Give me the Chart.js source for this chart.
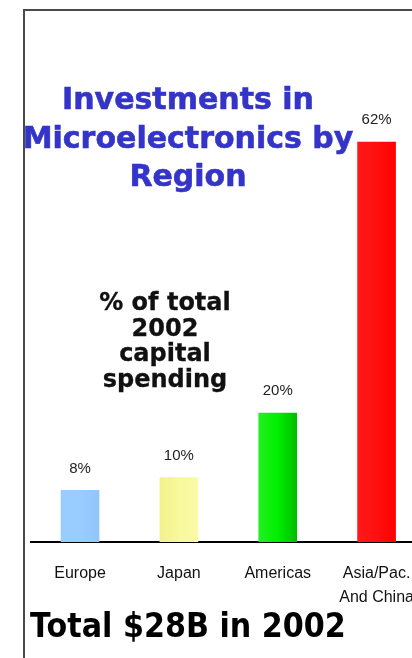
<!DOCTYPE html>
<html>
<head>
<meta charset="utf-8">
<script src="https://cdn.jsdelivr.net/npm/chart.js@4/dist/chart.umd.min.js"></script>
<style>
  html, body { margin: 0; padding: 0; background: #fff; overflow: hidden; width: 412px; height: 658px; }
  #frame { position: absolute; left: 23px; top: 9px; width: 420px; height: 700px;
           border-top: 2px solid #4a4a4a; border-left: 2px solid #4a4a4a; box-sizing: border-box; }
  #wrap { position: absolute; left: 0; top: 0; width: 426px; height: 658px; }
  .txt { position: absolute; white-space: nowrap; font-family: 'DejaVu Sans', Verdana, sans-serif; font-weight: bold; text-align: center; }
  #title { left: 0; width: 376px; top: 80px; color: #3434C8; font-size: 30px; line-height: 38.5px; -webkit-text-stroke: 0.6px #3434C8; }
  #sub { left: 65px; width: 200px; top: 290px; color: #111; font-size: 24px; line-height: 25.5px; -webkit-text-stroke: 0.3px #111; }
  #total { left: 30px; top: 604.5px; color: #000; font-size: 30.2px; line-height: 36px; text-align: left; transform-origin: 0 0; transform: scaleY(1.14); }
</style>
</head>
<body>
<div id="frame"></div>
<div id="wrap"><canvas id="c"></canvas></div>
<div class="txt" id="title">Investments in<br>Microelectronics by<br>Region</div>
<div class="txt" id="sub">% of total<br>2002<br>capital<br>spending</div>
<div class="txt" id="total">Total $28B in 2002</div>
<script>
const categories = [["Europe"], ["Japan"], ["Americas"], ["Asia/Pac.", "And China"]];
const values = [8, 10, 20, 62];
const valueLabels = ["8%", "10%", "20%", "62%"];
const barColors = [
  ["#9ACDFF", "#99CCFF", "#92C6FA"],
  ["#F2F28E", "#F8F89C", "#FAFAA8"],
  ["#22F022", "#00EE00", "#00BC00"],
  ["#FF1818", "#FF1010", "#FF0000"]
];
const BAR_W = 38;

const narrow = "'Liberation Sans Narrow', 'Arial Narrow', 'Liberation Sans', Arial, sans-serif";

function barFill(context) {
  const chart = context.chart;
  const i = context.dataIndex;
  const cols = barColors[i];
  if (!chart.chartArea) return cols[1];
  const cx = chart.scales.x.getPixelForValue(i);
  const g = chart.ctx.createLinearGradient(cx - BAR_W / 2, 0, cx + BAR_W / 2, 0);
  g.addColorStop(0, cols[0]);
  g.addColorStop(0.5, cols[1]);
  g.addColorStop(1, cols[2]);
  return g;
}

const valueLabelPlugin = {
  id: 'valueLabels',
  afterDatasetsDraw(chart) {
    const ctx = chart.ctx;
    const meta = chart.getDatasetMeta(0);
    ctx.save();
    ctx.font = "15px " + narrow;
    ctx.fillStyle = "#222";
    ctx.textAlign = "center";
    ctx.textBaseline = "middle";
    meta.data.forEach((el, i) => {
      ctx.fillText(valueLabels[i], el.x, el.y - 22);
    });
    ctx.restore();
  }
};

new Chart(document.getElementById('c'), {
  type: 'bar',
  data: {
    labels: categories,
    datasets: [{
      data: values,
      backgroundColor: barFill,
      borderWidth: 0,
      barThickness: BAR_W
    }]
  },
  options: {
    responsive: true,
    maintainAspectRatio: false,
    animation: false,
    layout: { padding: { left: 30.6, right: 0, top: 90.4, bottom: 0 } },
    plugins: { legend: { display: false }, tooltip: { enabled: false }, title: { display: false } },
    scales: {
      x: {
        grid: { display: false },
        border: { display: true, color: '#000', width: 2 },
        ticks: { color: '#111', padding: 12, font: { family: narrow, size: 16, lineHeight: 1.5 } },
        afterFit(scale) { scale.height = 116; }
      },
      y: {
        display: false,
        min: 0,
        max: 70
      }
    }
  },
  plugins: [valueLabelPlugin]
});
</script>
</body>
</html>
